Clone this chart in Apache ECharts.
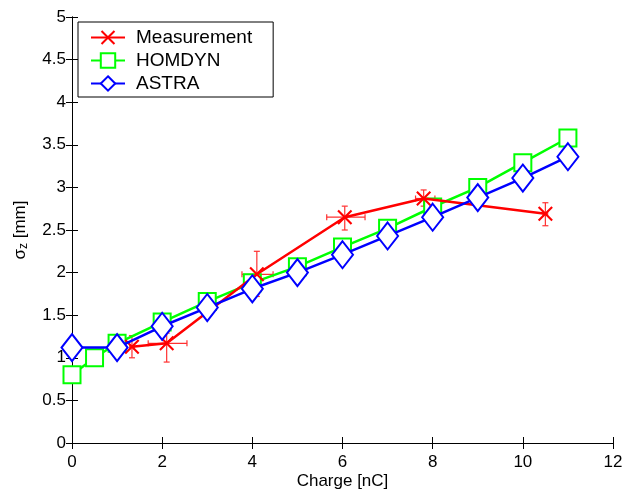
<!DOCTYPE html>
<html>
<head>
<meta charset="utf-8">
<script src="https://cdn.jsdelivr.net/npm/echarts@6/dist/echarts.min.js"></script>
<style>
  html, body { margin: 0; padding: 0; background: #fff; }
  #chart { width: 643px; height: 489px; }
</style>
</head>
<body>
<div id="chart"></div>
<script>
// measured bunch length
var measX = [1.33, 2.1, 4.1, 6.05, 7.8, 10.5];
var measY = [1.13, 1.17, 1.98, 2.65, 2.87, 2.69];
// error bars (low / high)
var measXLo = [1.28, 1.69, 3.77, 5.65, 7.62, 10.45];
var measXHi = [1.38, 2.55, 4.46, 6.5, 8.05, 10.55];
var measYLo = [1.0, 0.95, 1.72, 2.5, 2.78, 2.55];
var measYHi = [1.26, 1.29, 2.25, 2.78, 2.97, 2.82];

// HOMDYN simulation
var homdynX = [0, 0.5, 1, 2, 3, 4, 5, 6, 7, 8, 9, 10, 11];
var homdynY = [0.8, 1.0, 1.17, 1.42, 1.66, 1.88, 2.07, 2.3, 2.52, 2.77, 3.0, 3.29, 3.58];

// ASTRA simulation
var astraX = [0, 1, 2, 3, 4, 5, 6, 7, 8, 9, 10, 11];
var astraY = [1.12, 1.12, 1.37, 1.59, 1.81, 2.0, 2.21, 2.43, 2.65, 2.88, 3.11, 3.36];

var seriesNames = ["Measurement", "HOMDYN", "ASTRA"];

var FONT = "Liberation Sans";

function pairs(xs, ys) {
  var out = [];
  for (var i = 0; i < xs.length; i++) out.push([xs[i], ys[i]]);
  return out;
}

var errData = [];
for (var i = 0; i < measX.length; i++) {
  errData.push([measX[i], measY[i], measXLo[i], measXHi[i], measYLo[i], measYHi[i]]);
}

var xMark = "path://M0,1L1,0L5,4L9,0L10,1L6,5L10,9L9,10L5,6L1,10L0,9L4,5Z";

var myChart = echarts.init(document.getElementById("chart"));

var axisCommon = {
  axisLine: { show: true, lineStyle: { color: "#000", width: 1 } },
  axisTick: { show: true, inside: true, length: 6, lineStyle: { color: "#000" } },
  splitLine: { show: false }
};

var option = {
  animation: false,
  backgroundColor: "#fff",
  grid: { left: 72, right: 30, top: 17, bottom: 46, outerBoundsMode: "none" },
  legend: {
    data: seriesNames,
    orient: "vertical",
    left: 78,
    top: 22,
    padding: [6, 21, 4, 12],
    itemGap: 4,
    itemWidth: 34,
    itemHeight: 18,
    borderColor: "#000",
    borderWidth: 1,
    backgroundColor: "#fff",
    textStyle: { fontFamily: FONT, fontSize: 19, color: "#000", padding: [0, 0, 0, 6] }
  },
  xAxis: [
    Object.assign({
      type: "value", min: 0, max: 12, interval: 2, position: "bottom",
      name: "Charge [nC]", nameLocation: "middle", nameGap: 30, nameMoveOverlap: false,
      nameTextStyle: { fontFamily: FONT, fontSize: 17, color: "#000" },
      axisLabel: { fontFamily: FONT, fontSize: 17, color: "#000", margin: 11 }
    }, axisCommon),
    Object.assign({
      type: "value", min: 0, max: 12, interval: 2, position: "top",
      axisLabel: { show: false }
    }, axisCommon)
  ],
  yAxis: [
    Object.assign({
      type: "value", min: 0, max: 5, interval: 0.5, position: "left",
      name: "σ{sub|z} [mm]", nameLocation: "middle", nameGap: 42, nameMoveOverlap: false,
      nameTextStyle: {
        fontFamily: FONT, fontSize: 17, color: "#000",
        rich: { sub: { fontFamily: FONT, fontSize: 12, color: "#000", verticalAlign: "bottom", padding: [8, 0, 0, 0] } }
      },
      axisLabel: { fontFamily: FONT, fontSize: 17, color: "#000", margin: 6 }
    }, axisCommon),
    Object.assign({
      type: "value", min: 0, max: 5, interval: 0.5, position: "right",
      axisLabel: { show: false }
    }, axisCommon)
  ],
  series: [
    {
      name: "errorbars",
      type: "custom",
      z: 1,
      silent: true,
      renderItem: function (params, api) {
        var c = api.coord([api.value(0), api.value(1)]);
        var xl = api.coord([api.value(2), api.value(1)]);
        var xh = api.coord([api.value(3), api.value(1)]);
        var yl = api.coord([api.value(0), api.value(4)]);
        var yh = api.coord([api.value(0), api.value(5)]);
        var cap = 3;
        var st = { stroke: "#ff3030", lineWidth: 1.2 };
        return {
          type: "group",
          children: [
            { type: "line", shape: { x1: xl[0], y1: c[1], x2: xh[0], y2: c[1] }, style: st },
            { type: "line", shape: { x1: xl[0], y1: c[1] - cap, x2: xl[0], y2: c[1] + cap }, style: st },
            { type: "line", shape: { x1: xh[0], y1: c[1] - cap, x2: xh[0], y2: c[1] + cap }, style: st },
            { type: "line", shape: { x1: c[0], y1: yl[1], x2: c[0], y2: yh[1] }, style: st },
            { type: "line", shape: { x1: c[0] - cap, y1: yl[1], x2: c[0] + cap, y2: yl[1] }, style: st },
            { type: "line", shape: { x1: c[0] - cap, y1: yh[1], x2: c[0] + cap, y2: yh[1] }, style: st }
          ]
        };
      },
      data: errData
    },
    {
      name: "Measurement",
      type: "line",
      z: 4,
      data: pairs(measX, measY),
      symbol: xMark,
      symbolSize: 15,
      showAllSymbol: true,
      lineStyle: { color: "#ff0000", width: 2.5 },
      itemStyle: { color: "#ff0000" }
    },
    {
      name: "HOMDYN",
      type: "line",
      z: 3,
      data: pairs(homdynX, homdynY),
      symbol: "emptyRect",
      symbolSize: 17,
      showAllSymbol: true,
      lineStyle: { color: "#00ff00", width: 2.5 },
      itemStyle: { color: "#00ff00", borderWidth: 2.5 }
    },
    {
      name: "ASTRA",
      type: "line",
      z: 5,
      data: pairs(astraX, astraY),
      symbol: "emptyDiamond",
      symbolSize: [21, 27],
      showAllSymbol: true,
      lineStyle: { color: "#0000ff", width: 2.5 },
      itemStyle: { color: "#0000ff", borderWidth: 2.5 }
    }
  ]
};

myChart.setOption(option);
</script>
</body>
</html>
